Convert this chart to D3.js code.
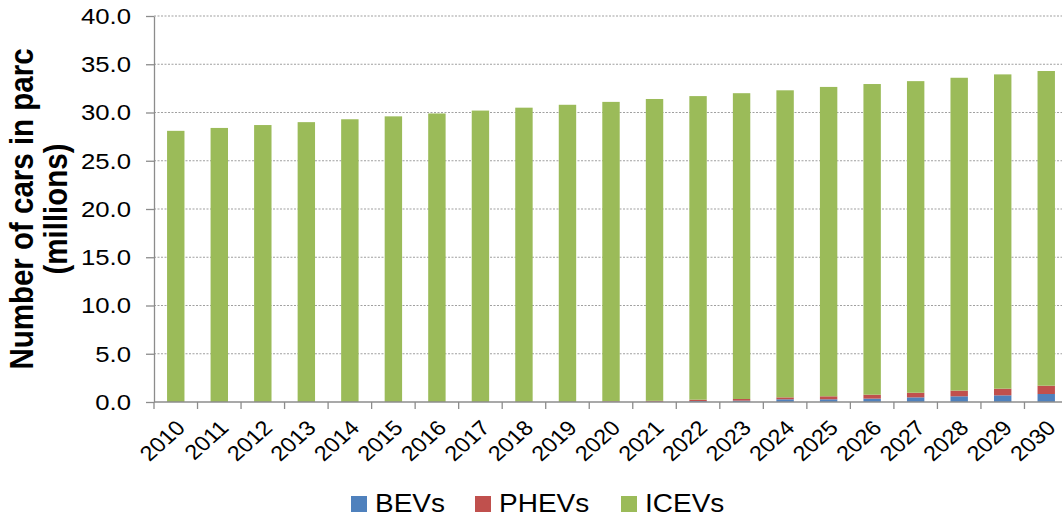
<!DOCTYPE html>
<html>
<head>
<meta charset="utf-8">
<script src="https://cdn.jsdelivr.net/npm/d3@7"></script>
<style>
  body { margin: 0; background: #fff; }
  svg text { font-family: "Liberation Sans", Arial, sans-serif; fill: #000; }
</style>
</head>
<body>
<div id="container"></div>
<script>
/* DATA */
const years = ["2010","2011","2012","2013","2014","2015","2016","2017","2018","2019",
  "2020","2021","2022","2023","2024","2025","2026","2027","2028","2029","2030"];
const bevs  = [0,0,0,0,0,0,0,0,0,0, 0.01,0.02,0.10,0.14,0.28,0.28,0.35,0.48,0.59,0.69,0.83];
const phevs = [0,0,0,0,0,0,0,0,0,0, 0.06,0.10,0.14,0.17,0.20,0.31,0.41,0.48,0.59,0.69,0.86];
const icevs = [28.1,28.4,28.7,29.0,29.3,29.6,29.9,30.2,30.5,30.8,
  31.03,31.28,31.46,31.69,31.82,32.06,32.19,32.29,32.42,32.57,32.61];
const seriesNames = ["BEVs","PHEVs","ICEVs"];
const yTicks = [0,5,10,15,20,25,30,35,40];

/* CONSTANTS */
const width = 1062, height = 520,
  margin = { top: 16, bottom: 118, left: 154, right: -6 };
const colors = { BEVs: "#4F81BD", PHEVs: "#C0504D", ICEVs: "#9BBB59" };
const stretch = 1.12; // the original text is a bit wider than Arial

const rows = years.map((y, i) => ({ year: y, BEVs: bevs[i], PHEVs: phevs[i], ICEVs: icevs[i] }));
const stacked = d3.stack().keys(seriesNames)(rows);

/* SCALES */
const xScale = d3.scaleBand()
  .domain(years)
  .range([margin.left, width - margin.right])
  .paddingInner(0.6)
  .paddingOuter(0.3);

const yScale = d3.scaleLinear()
  .domain([0, 40])
  .range([height - margin.bottom, margin.top]);

const svg = d3.select("#container")
  .append("svg")
  .attr("width", width)
  .attr("height", height);

// gridlines (dotted)
svg.append("g")
  .selectAll("line")
  .data(yTicks.filter(d => d > 0))
  .join("line")
  .attr("x1", margin.left)
  .attr("x2", width)
  .attr("y1", d => yScale(d))
  .attr("y2", d => yScale(d))
  .attr("stroke", "#a0a0a0")
  .attr("stroke-width", 1.2)
  .attr("stroke-dasharray", "2,1.5");

// bars
svg.append("g")
  .selectAll("g")
  .data(stacked)
  .join("g")
  .attr("fill", d => colors[d.key])
  .selectAll("rect")
  .data(d => d)
  .join("rect")
  .attr("x", d => xScale(d.data.year))
  .attr("width", xScale.bandwidth())
  .attr("y", d => yScale(d[1]))
  .attr("height", d => yScale(d[0]) - yScale(d[1]));

// y axis
const yAxis = d3.axisLeft(yScale)
  .tickValues(yTicks)
  .tickFormat(d3.format(".1f"))
  .tickSize(8)
  .tickSizeOuter(0);
const gy = svg.append("g")
  .attr("transform", `translate(${margin.left},0)`)
  .call(yAxis);
gy.select(".domain").attr("stroke", "#8c8c8c").attr("stroke-width", 1.3);
gy.selectAll(".tick line").attr("stroke", "#8c8c8c").attr("stroke-width", 1.3);
gy.selectAll(".tick text")
  .attr("font-size", 23)
  .attr("font-family", "Liberation Sans, Arial, sans-serif")
  .attr("fill", "#000")
  .attr("x", -23 / stretch)
  .attr("transform", `scale(${stretch},1)`);

// x axis line + boundary ticks
const x0 = height - margin.bottom;
svg.append("line")
  .attr("x1", margin.left).attr("x2", width)
  .attr("y1", x0).attr("y2", x0)
  .attr("stroke", "#8c8c8c").attr("stroke-width", 1.3);
svg.append("g")
  .selectAll("line")
  .data(d3.range(years.length + 1))
  .join("line")
  .attr("x1", i => margin.left + i * xScale.step())
  .attr("x2", i => margin.left + i * xScale.step())
  .attr("y1", x0).attr("y2", x0 + 7)
  .attr("stroke", "#8c8c8c").attr("stroke-width", 1.3);

// x labels
const xAxis = d3.axisBottom(xScale).tickSize(0).tickPadding(0);
const gx = svg.append("g")
  .attr("transform", `translate(0,${x0})`)
  .call(xAxis);
gx.select(".domain").remove();
gx.selectAll(".tick text")
  .attr("font-size", 21)
  .attr("font-family", "Liberation Sans, Arial, sans-serif")
  .attr("fill", "#000")
  .attr("text-anchor", "end")
  .attr("dy", "0.35em")
  .attr("y", 0)
  .attr("transform", `translate(5,22) scale(${stretch},1) rotate(-45)`);

// y title
svg.append("text")
  .attr("transform", `translate(33,${yScale(20)}) rotate(-90) scale(1,${stretch})`)
  .attr("text-anchor", "middle")
  .attr("font-size", 29.5)
  .attr("font-weight", "bold")
  .selectAll("tspan")
  .data(["Number of cars in parc", "(millions)"])
  .join("tspan")
  .attr("x", 0)
  .attr("dy", (d, i) => i === 0 ? 0 : 30)
  .text(d => d);

// legend
const legend = svg.append("g")
  .selectAll("g")
  .data(seriesNames)
  .join("g")
  .attr("transform", (d, i) => `translate(${[351, 475, 621][i]},496)`);
legend.append("rect")
  .attr("width", 16).attr("height", 16)
  .attr("fill", d => colors[d]);
legend.append("text")
  .attr("x", 24).attr("y", 16)
  .attr("font-size", 25)
  .attr("transform", `scale(${stretch},1)`)
  .attr("x", 24 / stretch)
  .text(d => d);
</script>
</body>
</html>
